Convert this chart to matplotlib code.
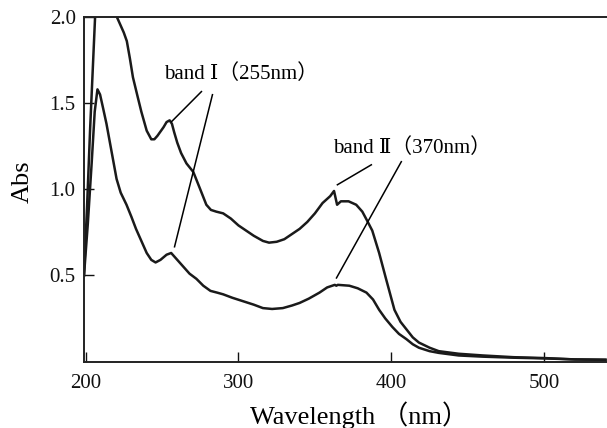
import matplotlib
matplotlib.use("Agg")
import matplotlib.pyplot as plt

# ---- data ----
wl_upper = [199, 201, 203, 205, 206.5, 210, 215, 219.5, 221, 223, 225, 227, 229, 231, 234, 236.5,
            240, 243, 245, 247, 251, 253, 255, 256.5, 258, 260, 262.5, 266, 270.5, 275, 279, 282,
            285.5, 290, 295, 300, 305, 310, 316, 320, 325, 330, 335, 340, 345, 350, 355, 360,
            362.5, 363.5, 364.5, 367, 372, 377, 381, 384, 387.5, 392, 396.5, 402, 406, 410, 414,
            418, 425, 431, 444, 460, 480, 500, 520, 540]
abs_upper = [0.50, 0.90, 1.35, 1.75, 2.05, 2.10, 2.10, 2.02, 1.99, 1.95, 1.91, 1.86, 1.76, 1.65,
             1.54, 1.45, 1.34, 1.29, 1.29, 1.31, 1.36, 1.39, 1.40, 1.38, 1.33, 1.27, 1.21, 1.15, 1.10,
             1.00, 0.91, 0.88, 0.87, 0.86, 0.83, 0.79, 0.76, 0.73, 0.70, 0.69, 0.695, 0.71, 0.74,
             0.77, 0.81, 0.86, 0.92, 0.96, 0.99, 0.95, 0.91, 0.93, 0.93, 0.91, 0.87, 0.82, 0.76,
             0.63, 0.48, 0.30, 0.23, 0.185, 0.14, 0.11, 0.08, 0.06, 0.045, 0.035, 0.025, 0.02,
             0.012, 0.01]

wl_lower = [199, 201.5, 204, 206, 207.8, 209.5, 211.5, 213.7, 217, 220.3, 223, 226.8, 230, 233,
            236.5, 240, 243, 245.8, 249, 253, 256, 259, 264, 268, 272.5, 277, 281.7, 286, 290,
            296, 303, 310, 316, 322, 329, 335, 340, 346, 353, 358, 363, 364, 365, 372.5, 378,
            383.7, 388, 392, 396, 400.7, 405, 409.8, 414, 418, 425, 431, 444, 460, 480, 500,
            520, 540]
abs_lower = [0.50, 0.80, 1.15, 1.45, 1.58, 1.55, 1.47, 1.38, 1.22, 1.06, 0.98, 0.91, 0.84, 0.77,
             0.70, 0.63, 0.59, 0.575, 0.59, 0.62, 0.63, 0.60, 0.55, 0.51, 0.48, 0.44, 0.41, 0.40, 0.39,
             0.37, 0.35, 0.33, 0.31, 0.305, 0.31, 0.325, 0.34, 0.365, 0.40, 0.43, 0.445, 0.44, 0.445,
             0.44, 0.425, 0.40, 0.36, 0.30, 0.25, 0.20, 0.16, 0.13, 0.10, 0.08, 0.06, 0.05, 0.035,
             0.028, 0.022, 0.018, 0.012, 0.01]

x_ticks = [200, 300, 400, 500]
y_ticks = [0.5, 1.0, 1.5, 2.0]
y_ticklabels = ["0.5", "1.0", "1.5", "2.0"]

label_band1 = "band Ⅰ（255nm）"
label_band2 = "band Ⅱ（370nm）"
xlabel = "Wavelength （nm）"
ylabel = "Abs"

# ---- figure ----
serif = ["Liberation Serif", "DejaVu Serif", "Noto Sans CJK SC", "DejaVu Sans"]
plt.rcParams["font.family"] = serif

fig = plt.figure(figsize=(6.07, 4.28), dpi=100)
ax = fig.add_axes([84 / 607, (428 - 361.5) / 428, (607 - 84) / 607, (361.5 - 17) / 428])

line_color = "#1a1a1a"
ax.plot(wl_upper, abs_upper, color=line_color, lw=1.8, solid_joinstyle="round")
ax.plot(wl_lower, abs_lower, color=line_color, lw=1.8, solid_joinstyle="round")

ax.set_xlim(199, 541)
ax.set_ylim(0, 2.0)
ax.set_xticks(x_ticks)
ax.set_yticks(y_ticks)
ax.set_yticklabels(y_ticklabels)
ax.tick_params(direction="in", length=7, width=1.0, labelsize=15, pad=6, colors="#111111")
ax.tick_params(axis="x", pad=9)

for side in ["left", "bottom", "top"]:
    ax.spines[side].set_linewidth(1.4)
    ax.spines[side].set_color("#222222")
ax.spines["right"].set_visible(False)

# annotations
ax.text(301.5, 1.666, label_band1, fontsize=15, ha="center", va="center", family=serif)
ax.text(413.5, 1.241, label_band2, fontsize=15, ha="center", va="center", family=serif)
ann_kw = dict(color="black", lw=1.1)
ax.plot([275.8, 256.2], [1.567, 1.392], **ann_kw)
ax.plot([283.0, 258.2], [1.549, 0.666], **ann_kw)
ax.plot([386.9, 364.7], [1.142, 1.026], **ann_kw)
ax.plot([406.5, 364.1], [1.160, 0.485], **ann_kw)

fig.text(359 / 607, (428 - 415) / 428, xlabel, fontsize=19, ha="center", va="center", family=serif)
fig.text(23 / 607, (428 - 182) / 428, ylabel, fontsize=19, ha="center", va="center",
         rotation=90, family=serif)

fig.savefig("out.png", dpi=100)
